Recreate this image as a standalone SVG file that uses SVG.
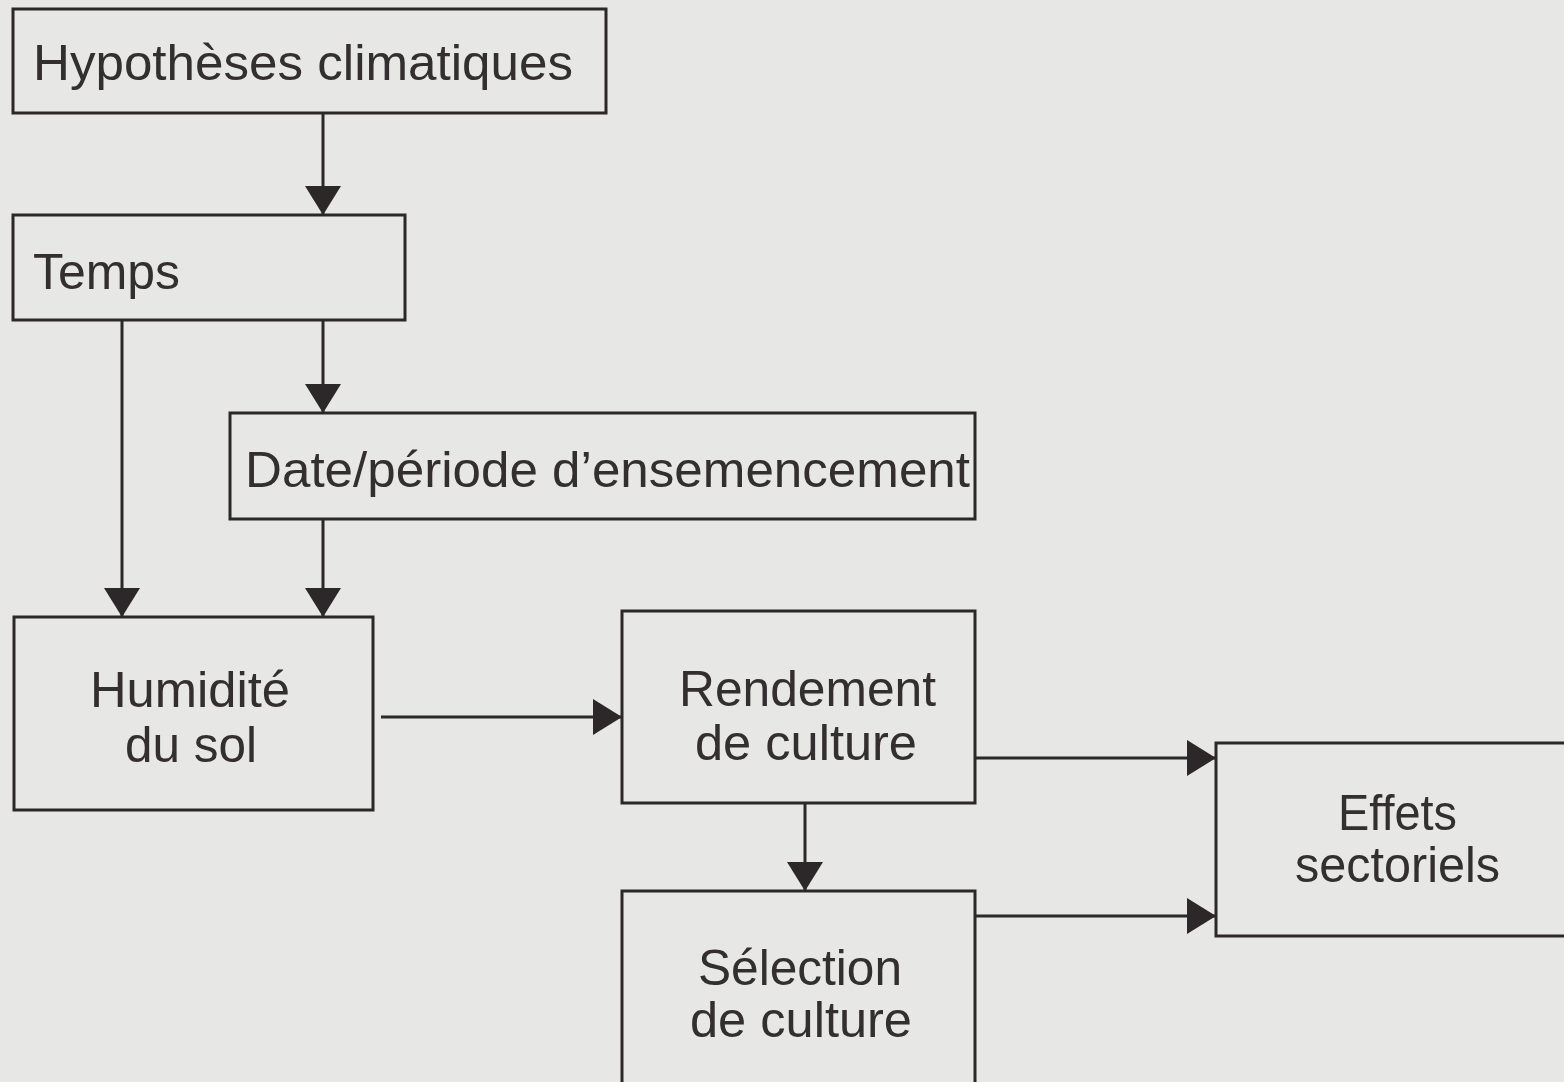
<svg xmlns="http://www.w3.org/2000/svg" width="1564" height="1082" viewBox="0 0 1564 1082">
  <style>
    .box { fill: none; stroke: #2c2829; stroke-width: 3; }
    .lbl { font-family: "Liberation Sans", Arial, sans-serif; font-size: 50px; fill: #332e30; }
    .edge { fill: none; stroke: #2c2829; stroke-width: 3; }
  </style>
  <defs>
    <marker id="arrow" markerUnits="userSpaceOnUse" markerWidth="30" markerHeight="36" refX="29" refY="18" orient="auto">
      <path d="M0,0 L29,18 L0,36 Z" fill="#2c2829"/>
    </marker>
  </defs>

  <!-- paper -->
  <rect x="0" y="0" width="1564" height="1082" fill="#e7e7e5"/>

  <g id="hypotheses">
    <rect class="box" x="13" y="9" width="593" height="104"/>
    <text class="lbl" x="33" y="80" textLength="540" lengthAdjust="spacingAndGlyphs">Hypothèses climatiques</text>
  </g>

  <g id="temps">
    <rect class="box" x="13" y="215" width="392" height="105"/>
    <text class="lbl" x="33" y="289" textLength="147" lengthAdjust="spacingAndGlyphs">Temps</text>
  </g>

  <g id="date">
    <rect class="box" x="230" y="413" width="745" height="106"/>
    <text class="lbl" x="245" y="487" textLength="725" lengthAdjust="spacingAndGlyphs">Date/période d’ensemencement</text>
  </g>

  <g id="humidite">
    <rect class="box" x="14" y="617" width="359" height="193"/>
    <text class="lbl" x="90" y="707" textLength="200" lengthAdjust="spacingAndGlyphs">Humidité</text>
    <text class="lbl" x="125" y="762" textLength="132" lengthAdjust="spacingAndGlyphs">du sol</text>
  </g>

  <g id="rendement">
    <rect class="box" x="622" y="611" width="353" height="192"/>
    <text class="lbl" x="679" y="706" textLength="257" lengthAdjust="spacingAndGlyphs">Rendement</text>
    <text class="lbl" x="695" y="760" textLength="222" lengthAdjust="spacingAndGlyphs">de culture</text>
  </g>

  <g id="selection">
    <rect class="box" x="622" y="891" width="353" height="200"/>
    <text class="lbl" x="698" y="985" textLength="204" lengthAdjust="spacingAndGlyphs">Sélection</text>
    <text class="lbl" x="690" y="1037" textLength="222" lengthAdjust="spacingAndGlyphs">de culture</text>
  </g>

  <g id="effets">
    <rect class="box" x="1216" y="743" width="360" height="193"/>
    <text class="lbl" x="1338" y="830" textLength="119" lengthAdjust="spacingAndGlyphs">Effets</text>
    <text class="lbl" x="1295" y="882" textLength="205" lengthAdjust="spacingAndGlyphs">sectoriels</text>
  </g>

  <g id="connectors">
    <line class="edge" x1="323" y1="113" x2="323" y2="215" marker-end="url(#arrow)"/>
    <line class="edge" x1="122" y1="320" x2="122" y2="617" marker-end="url(#arrow)"/>
    <line class="edge" x1="323" y1="320" x2="323" y2="413" marker-end="url(#arrow)"/>
    <line class="edge" x1="323" y1="519" x2="323" y2="617" marker-end="url(#arrow)"/>
    <line class="edge" x1="381" y1="717" x2="622" y2="717" marker-end="url(#arrow)"/>
    <line class="edge" x1="975" y1="758" x2="1216" y2="758" marker-end="url(#arrow)"/>
    <line class="edge" x1="805" y1="803" x2="805" y2="891" marker-end="url(#arrow)"/>
    <line class="edge" x1="975" y1="916" x2="1216" y2="916" marker-end="url(#arrow)"/>
  </g>
</svg>
